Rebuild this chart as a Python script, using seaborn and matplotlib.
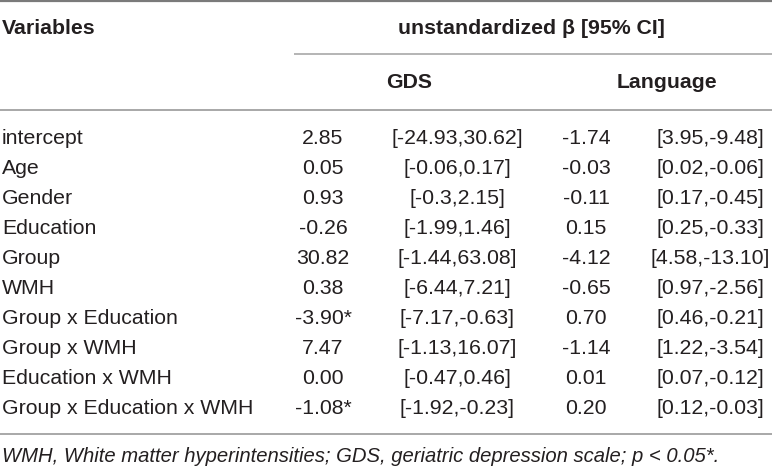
import matplotlib
matplotlib.use("Agg")
import matplotlib.pyplot as plt
import seaborn as sns

# ---- data ----
variables = ["intercept", "Age", "Gender", "Education", "Group", "WMH",
             "Group x Education", "Group x WMH", "Education x WMH",
             "Group x Education x WMH"]
gds_beta = ["2.85", "0.05", "0.93", "-0.26", "30.82", "0.38", "-3.90*",
            "7.47", "0.00", "-1.08*"]
gds_ci = ["[-24.93,30.62]", "[-0.06,0.17]", "[-0.3,2.15]", "[-1.99,1.46]",
          "[-1.44,63.08]", "[-6.44,7.21]", "[-7.17,-0.63]", "[-1.13,16.07]",
          "[-0.47,0.46]", "[-1.92,-0.23]"]
lang_beta = ["-1.74", "-0.03", "-0.11", "0.15", "-4.12", "-0.65", "0.70",
             "-1.14", "0.01", "0.20"]
lang_ci = ["[3.95,-9.48]", "[0.02,-0.06]", "[0.17,-0.45]", "[0.25,-0.33]",
           "[4.58,-13.10]", "[0.97,-2.56]", "[0.46,-0.21]", "[1.22,-3.54]",
           "[0.07,-0.12]", "[0.12,-0.03]"]
col_header = "Variables"
span_header = "unstandardized \u03b2 [95% CI]"
sub_headers = ["GDS", "Language"]
footnote = "WMH, White matter hyperintensities; GDS, geriatric depression scale; p < 0.05*."

sns.set_theme(style="white")
plt.rcParams["font.family"] = ["Liberation Sans", "DejaVu Sans"]

W, H = 772, 468
fig = plt.figure(figsize=(W / 100, H / 100), dpi=100)
ax = fig.add_axes([0, 0, 1, 1])
ax.set_xlim(0, W)
ax.set_ylim(H, 0)
ax.axis("off")

txt = "#231f20"
fs = 15.3

# layout
x_var = 2
x_gds_b, x_gds_ci, x_lang_b, x_lang_ci = 323, 457, 586, 710
row0, drow = 138, 30

# rules
ax.plot([0, W], [1, 1], color="#7a7a7a", lw=1.6, solid_capstyle="butt")
ax.plot([294, W], [54, 54], color="#a0a0a0", lw=1.1, solid_capstyle="butt")
ax.plot([0, W], [109.5, 109.5], color="#a8a8a8", lw=1.4, solid_capstyle="butt")
ax.plot([0, W], [434, 434], color="#a8a8a8", lw=1.4, solid_capstyle="butt")

# headers
ax.text(x_var, 28, col_header, fontsize=fs, fontweight="bold", color=txt,
        ha="left", va="center")
ax.text(531, 28, span_header, fontsize=fs, fontweight="bold", color=txt,
        ha="center", va="center")
ax.text(409, 82, sub_headers[0], fontsize=fs, fontweight="bold", color=txt,
        ha="center", va="center")
ax.text(667, 82, sub_headers[1], fontsize=fs, fontweight="bold", color=txt,
        ha="center", va="center")

# body
for i, v in enumerate(variables):
    y = row0 + i * drow
    ax.text(x_var, y, v, fontsize=fs, color=txt, ha="left", va="center")
    ax.text(x_gds_b, y, gds_beta[i], fontsize=fs, color=txt, ha="center", va="center")
    ax.text(x_gds_ci, y, gds_ci[i], fontsize=fs, color=txt, ha="center", va="center")
    ax.text(x_lang_b, y, lang_beta[i], fontsize=fs, color=txt, ha="center", va="center")
    ax.text(x_lang_ci, y, lang_ci[i], fontsize=fs, color=txt, ha="center", va="center")

ax.text(x_var, 457, footnote, fontsize=14.6, style="italic", color=txt,
        ha="left", va="center")

fig.savefig("out.png", dpi=100)
